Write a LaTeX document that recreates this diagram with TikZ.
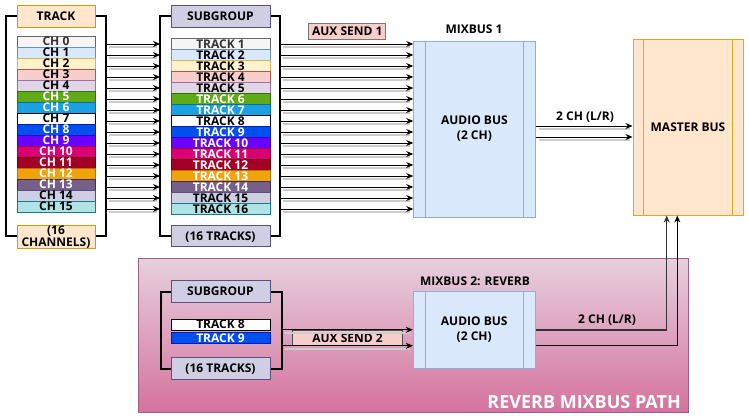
\documentclass[tikz,border=0pt]{standalone}
\usepackage{fontspec}
\setmainfont{Open Sans}
\usetikzlibrary{arrows.meta}

\definecolor{trkfill}{HTML}{FFE6CC}
\definecolor{trkline}{HTML}{D79B00}
\definecolor{subfill}{HTML}{D0CEE2}
\definecolor{subline}{HTML}{56517E}
\definecolor{auxfill}{HTML}{F8CECC}
\definecolor{auxline}{HTML}{777777}
\definecolor{busfill}{HTML}{DAE8FC}
\definecolor{busline}{HTML}{8FAEDB}
\definecolor{mstline}{HTML}{E0A726}
\definecolor{revtop}{HTML}{E6D0DE}
\definecolor{revbot}{HTML}{D5739D}
\definecolor{revline}{HTML}{996185}

\tikzset{
  lbl/.style={font=\fontsize{12}{12.5}\selectfont\bfseries, inner sep=0pt},
  capt/.style={lbl, text height=8.5pt, text depth=0pt},
  row/.style={capt, draw, line width=1pt, minimum height=11pt},
  hdr/.style={lbl, draw, line width=1pt, align=center},
  frame/.style={draw=black, line width=2pt},
  bus/.style={lbl, draw=busline, fill=busfill, line width=1pt, align=center,
    font=\fontsize{12}{15}\selectfont\bfseries},
  sig/.style={draw=black, line width=1pt, -{Stealth[length=7pt,width=6pt]},
    preaction={draw=black!20, line width=1.5pt, arrows=-, shorten >=6pt,
      transform canvas={shift={(3pt,-3pt)}}}},
  wire/.style={draw=black, line width=1pt, -{Stealth[length=7pt,width=6pt]}},
}

\begin{document}
\begin{tikzpicture}[x=1pt,y=-1pt]
\useasboundingbox (0,0) rectangle (749,418);

% reverb path
\node[draw=revline, line width=1pt, top color=revtop, bottom color=revbot,
  minimum width=550.5pt, minimum height=153.5pt] (revbox) at (413.25,335.25) {};
\node[lbl, anchor=east, text=white, font=\fontsize{18}{18}\selectfont\bfseries]
  (revlbl) at (681,402) {REVERB MIXBUS PATH};

% track group
\draw[frame] (6,16) rectangle (106,236);
\node[hdr, capt, fill=trkfill, draw=trkline, minimum width=78pt, minimum height=22pt]
  (trkhead) at (56,16) {TRACK};
\node[hdr, fill=trkfill, draw=trkline, minimum width=78pt, minimum height=22pt]
  (trkfoot) at (56,237) {(16\\CHANNELS)};
\coordinate (trkR) at (106,0);

% subgroup
\draw[frame] (160,16) rectangle (280,236);
\node[hdr, capt, fill=subfill, draw=subline, minimum width=99pt, minimum height=22pt]
  (subhead) at (220.5,16) {SUBGROUP};
\node[hdr, capt, fill=subfill, draw=subline, minimum width=99pt, minimum height=21pt]
  (subfoot) at (220.5,236) {(16 TRACKS)};
\coordinate (subL) at (160,0);
\coordinate (subR) at (280,0);

% mixbus 1 and master
\node[bus, minimum width=121.3pt, minimum height=176pt] (mb1) at (474.4,129) {AUDIO BUS\\(2 CH)};
\draw[busline, line width=1pt] ([xshift=12.5pt]mb1.north west) -- ([xshift=12.5pt]mb1.south west);
\draw[busline, line width=1pt] ([xshift=-12.5pt]mb1.north east) -- ([xshift=-12.5pt]mb1.south east);
\node[capt] (mb1lbl) at (474,29) {MIXBUS 1};
\node[hdr, capt, fill=auxfill, draw=auxline, minimum width=77pt, minimum height=16pt]
  (aux1) at (347.3,31) {AUX SEND 1};

\node[capt, draw=mstline, fill=trkfill, line width=1pt, minimum width=110pt, minimum height=176pt]
  (master) at (688,127) {MASTER BUS};
\draw[mstline, line width=1pt] ([xshift=11pt]master.north west) -- ([xshift=11pt]master.south west);
\draw[mstline, line width=1pt] ([xshift=-11pt]master.north east) -- ([xshift=-11pt]master.south east);

% channels and tracks
\foreach \i/\fc/\dc/\tc in {0/F5F5F5/666666/333333, 1/DAE8FC/6C8EBF/000000,
    2/FFF2CC/D6B656/000000, 3/F8CECC/B85450/000000, 4/E1D5E7/9673A6/000000,
    5/60A917/2D7600/FFFFFF, 6/1BA1E2/006EAF/FFFFFF, 7/FFFFFF/000000/000000,
    8/0050EF/001DBC/FFFFFF, 9/6A00FF/3700CC/FFFFFF, 10/D80073/A50040/FFFFFF,
    11/A20025/6F0000/FFFFFF, 12/F0A30A/BD7000/FFFFFF, 13/76608A/432D57/FFFFFF,
    14/D0CEE2/56517E/000000, 15/B0E3E6/0E8088/000000} {
  \definecolor{rowfill}{HTML}{\fc}
  \definecolor{rowline}{HTML}{\dc}
  \definecolor{rowtext}{HTML}{\tc}
  \pgfmathtruncatemacro{\j}{\i+1}
  \node[row, fill=rowfill, draw=rowline, text=rowtext, minimum width=78pt]
    (ch\i) at (56,41.5+11*\i) {CH \i};
  \node[row, fill=rowfill, draw=rowline, text=rowtext, minimum width=99pt]
    (tr\i) at (220.5,44+11*\i) {TRACK \j};
  \draw[sig] (tr\i.west -| trkR) -- (tr\i.west -| subL);
  \draw[sig] (tr\i.east -| subR) -- (tr\i.east -| mb1.west);
}

\draw[sig] ([yshift=3pt]mb1.east) -- ([yshift=3pt]mb1.east -| master.west);
\draw[sig] ([yshift=-8pt]mb1.east) -- ([yshift=-8pt]mb1.east -| master.west);
\node[capt] (out1) at (585,116) {2 CH (L/R)};

% reverb subgroup
\draw[frame] (160.7,291.5) rectangle (282,368.5);
\node[hdr, capt, fill=subfill, draw=subline, minimum width=99pt, minimum height=22pt]
  (rsubhead) at (220.5,291.3) {SUBGROUP};
\node[hdr, capt, fill=subfill, draw=subline, minimum width=99pt, minimum height=21.5pt]
  (rsubfoot) at (220.5,368.5) {(16 TRACKS)};
\node[row, fill=white, draw=black, minimum width=99pt] (rtr8) at (220.5,324.5) {TRACK 8};
\definecolor{rowfill}{HTML}{0050EF}
\definecolor{rowline}{HTML}{001DBC}
\node[row, fill=rowfill, draw=rowline, text=white, minimum width=99pt] (rtr9) at (220.5,338) {TRACK 9};
\coordinate (rsubR) at (282,0);

% mixbus 2
\node[bus, minimum width=121.7pt, minimum height=77pt] (mb2) at (474.2,329.8) {AUDIO BUS\\(2 CH)};
\draw[busline, line width=1pt] ([xshift=12.5pt]mb2.north west) -- ([xshift=12.5pt]mb2.south west);
\draw[busline, line width=1pt] ([xshift=-12.5pt]mb2.north east) -- ([xshift=-12.5pt]mb2.south east);
\node[capt] (mb2lbl) at (475,281) {MIXBUS 2: REVERB};

\node[hdr, capt, fill=auxfill, draw=black!70, minimum width=110.4pt, minimum height=15.7pt]
  (aux2) at (347.5,338) {AUX SEND 2};
\draw[sig] (mb2.west -| rsubR) -- (mb2.west);
\draw[sig] ([yshift=-16pt]mb2.west -| rsubR) -- ([yshift=-16pt]mb2.west);

\draw[wire, black!80, line width=1.5pt] (mb2.east) -| ([xshift=-21.3pt]master.south);
\draw[wire] ([yshift=-15.5pt]mb2.east) -| ([xshift=-10.7pt]master.south);
\node[capt] (out2) at (607,319) {2 CH (L/R)};
\end{tikzpicture}
\end{document}
